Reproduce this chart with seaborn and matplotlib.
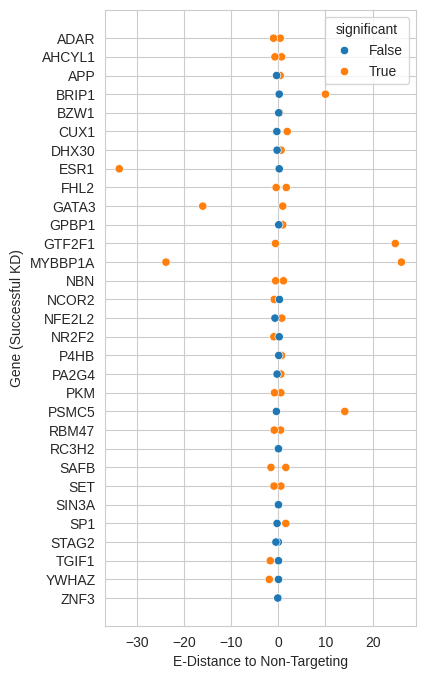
import matplotlib
matplotlib.use("Agg")
import matplotlib.pyplot as plt
import seaborn as sns
import numpy as np
import pandas as pd

# Genes with successful knockdown
genes = ["ADAR", "AHCYL1", "APP", "BRIP1", "BZW1", "CUX1", "DHX30", "ESR1",
         "FHL2", "GATA3", "GPBP1", "GTF2F1", "MYBBP1A", "NBN", "NCOR2",
         "NFE2L2", "NR2F2", "P4HB", "PA2G4", "PKM", "PSMC5", "RBM47", "RC3H2",
         "SAFB", "SET", "SIN3A", "SP1", "STAG2", "TGIF1", "YWHAZ", "ZNF3"]

# first measurement per gene
e_dist_1 = [0.4, 0.7, 0.4, 10.0, 0.3, 1.9, 0.6, -33.7,
            1.7, 0.95, 0.95, 24.8, 26.1, 1.1, -0.85,
            0.75, -0.93, 0.7, 0.55, 0.55, 14.1, 0.5, 0.0,
            1.6, 0.55, 0.0, 1.6, 0.0, -1.7, -1.9, -0.1]
sig_1 = [True, True, True, True, True, True, True, True,
         True, True, True, True, True, True, True,
         True, True, True, True, True, True, True, False,
         True, True, False, True, False, True, True, False]

# second measurement per gene
e_dist_2 = [-1.0, -0.7, -0.35, 0.2, 0.1, -0.3, -0.25, 0.2,
            -0.45, -16.0, 0.1, -0.6, -23.8, -0.55, 0.25,
            -0.7, 0.2, 0.1, -0.25, -0.8, -0.4, -0.85, 0.05,
            -1.55, -0.9, 0.05, -0.25, -0.5, 0.05, 0.05, -0.1]
sig_2 = [True, True, False, False, False, False, False, False,
         True, True, False, True, True, True, False,
         False, False, False, False, True, False, True, False,
         True, True, False, False, False, False, False, False]

df = pd.concat([
    pd.DataFrame({"gene": genes, "edist": e_dist_1, "significant": sig_1}),
    pd.DataFrame({"gene": genes, "edist": e_dist_2, "significant": sig_2}),
], ignore_index=True)

sns.set_style("whitegrid")
plt.rcParams["font.family"] = ["Liberation Sans", "DejaVu Sans"]

fig, ax = plt.subplots(figsize=(4.24, 6.79), dpi=100)
fig.subplots_adjust(left=0.248, right=0.98, top=0.985, bottom=0.078)
sns.scatterplot(data=df, x="edist", y="gene", hue="significant",
                hue_order=[False, True], ax=ax)
ax.set_xlabel("E-Distance to Non-Targeting")
ax.set_ylabel("Gene (Successful KD)")
fig.savefig("out.png", dpi=100)
